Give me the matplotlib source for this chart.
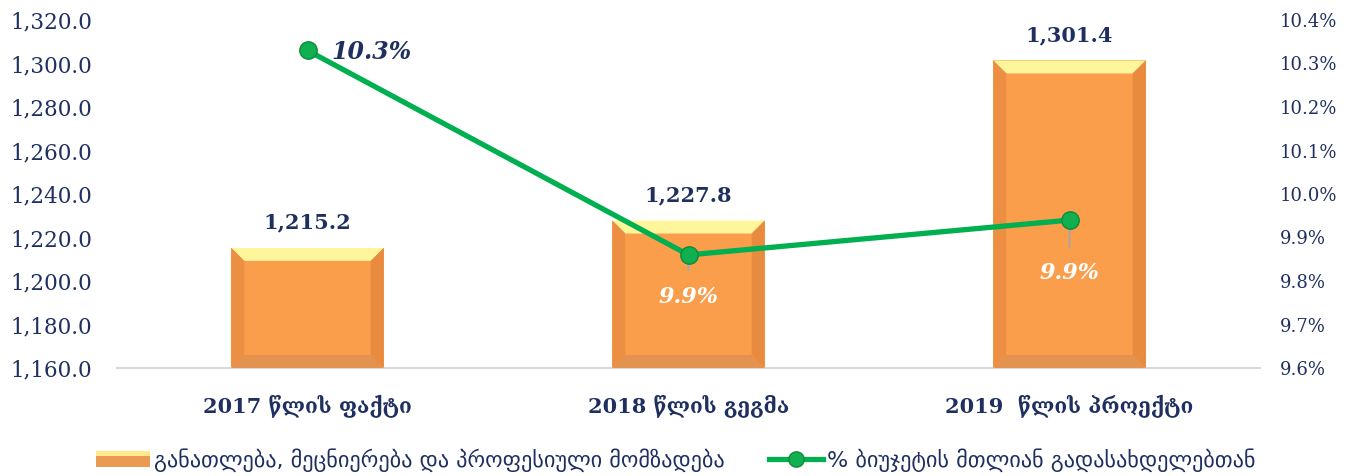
import matplotlib
matplotlib.use("Agg")
import matplotlib.pyplot as plt
from matplotlib.patches import Polygon, Rectangle
from matplotlib.lines import Line2D
from matplotlib.legend_handler import HandlerBase
from matplotlib.transforms import IdentityTransform
from matplotlib.ticker import FuncFormatter

# ---------------------------------------------------------------------------
# Data.
# ---------------------------------------------------------------------------
categories = ["2017 წლის ფაქტი", "2018 წლის გეგმა", "2019  წლის პროექტი"]
spending = [1215.2, 1227.8, 1301.4]          # million GEL
share_pct = [10.33, 9.86, 9.94]              # % of total budget expenditure
bar_label = "განათლება, მეცნიერება და პროფესიული მომზადება"
line_label = "% ბიუჯეტის მთლიან გადასახდელებთან"

NAVY = "#1F3060"
GREEN = "#00B050"
SERIF = ["DejaVu Serif", "DejaVu Sans"]

plt.rcParams["font.family"] = SERIF

fig = plt.figure(figsize=(13.52, 4.76), dpi=100)
ax = fig.add_axes([117 / 1352, 108 / 476, 1143 / 1352, 348 / 476])
ax2 = ax.twinx()

x = list(range(len(categories)))
ax.set_xlim(-0.5, len(categories) - 0.5)
ax.set_ylim(1160, 1320)
ax2.set_ylim(9.6, 10.4)

# ---------------------------------------------------------------------------
# Bevelled bars: flat face plus four edge facets drawn in pixel space.
# ---------------------------------------------------------------------------
bars = ax.bar(x, spending, width=0.4, color="#FB9E4B", zorder=2)
bevel = 13
for rect in bars:
    (x0, y0), (x1, y1) = ax.transData.transform(
        [(rect.get_x(), 1160), (rect.get_x() + rect.get_width(), rect.get_height())])
    facets = [
        ([(x0, y1), (x1, y1), (x1 - bevel, y1 - bevel), (x0 + bevel, y1 - bevel)], "#FFF59A"),
        ([(x0, y0), (x0, y1), (x0 + bevel, y1 - bevel), (x0 + bevel, y0 + bevel)], "#EC8F42"),
        ([(x1, y0), (x1, y1), (x1 - bevel, y1 - bevel), (x1 - bevel, y0 + bevel)], "#E98B3E"),
        ([(x0, y0), (x1, y0), (x1 - bevel, y0 + bevel), (x0 + bevel, y0 + bevel)], "#E3924F"),
    ]
    for pts, col in facets:
        ax.add_patch(Polygon(pts, closed=True, facecolor=col, edgecolor="none",
                             transform=IdentityTransform(), zorder=3))

for xi, val in zip(x, spending):
    ax.annotate(f"{val:,.1f}", (xi, val), xytext=(0, 11), textcoords="offset points",
                ha="center", va="bottom", fontsize=15, fontweight="bold", color=NAVY)

# ---------------------------------------------------------------------------
# Budget share line.
# ---------------------------------------------------------------------------
ax2.plot(x, share_pct, color=GREEN, lw=3.8, marker="o", ms=12.5,
         markerfacecolor="#10B050", markeredgecolor="#0A8A3A", markeredgewidth=1,
         zorder=5)

ax2.annotate(f"{share_pct[0]:.1f}%", (x[0], share_pct[0]), xytext=(17, -1),
             textcoords="offset points", ha="left", va="center", fontsize=17,
             fontweight="bold", style="italic", color=NAVY)
for xi, val, drop in zip(x[1:], share_pct[1:], [30, 38]):
    ax2.annotate(f"{val:.1f}%", (xi, val), xytext=(0, -drop),
                 textcoords="offset points", ha="center", va="center", fontsize=16,
                 fontweight="bold", style="italic", color="white",
                 arrowprops=dict(arrowstyle="-", color="#A6A6A6", lw=1.4,
                                 shrinkA=9, shrinkB=0), zorder=4)

# ---------------------------------------------------------------------------
# Axes styling.
# ---------------------------------------------------------------------------
for a in (ax, ax2):
    for s in a.spines.values():
        s.set_visible(False)
ax.spines["bottom"].set_visible(True)
ax.spines["bottom"].set_color("#D9D9D9")
ax.spines["bottom"].set_linewidth(1.5)

ax.set_yticks([1160 + 20 * i for i in range(9)])
ax.yaxis.set_major_formatter(FuncFormatter(lambda v, _: f"{v:,.1f}"))
ax.tick_params(axis="y", length=0, pad=18, labelsize=15.5, labelcolor=NAVY)
ax.set_xticks(x)
ax.set_xticklabels(categories, fontweight="bold")
ax.tick_params(axis="x", length=0, pad=19, labelsize=15, labelcolor=NAVY)

ax2.set_yticks([9.6 + 0.1 * i for i in range(9)])
ax2.yaxis.set_major_formatter(FuncFormatter(lambda v, _: f"{v:.1f}%"))
ax2.tick_params(axis="y", length=0, pad=14, labelsize=13, labelcolor=NAVY)


# ---------------------------------------------------------------------------
# Legend with a two-tone bar swatch.
# ---------------------------------------------------------------------------
class BevelSwatch(HandlerBase):
    def create_artists(self, legend, orig, xd, yd, width, height, fontsize, trans):
        bottom = Rectangle((xd, yd), width, height * 0.7, facecolor="#EA9A52",
                           edgecolor="none", transform=trans)
        top = Rectangle((xd, yd + height * 0.7), width, height * 0.3,
                        facecolor="#FFE98A", edgecolor="none", transform=trans)
        return [bottom, top]


bar_handle = Rectangle((0, 0), 1, 1)
line_handle = Line2D([], [], color=GREEN, lw=3.8, marker="o", ms=11,
                     markerfacecolor="#10B050", markeredgecolor="#0A8A3A")
fig.legend([bar_handle, line_handle], [bar_label, line_label],
           handler_map={Rectangle: BevelSwatch()},
           loc="center", bbox_to_anchor=(0.5, 0.033), ncol=2, frameon=False,
           prop={"family": ["DejaVu Sans"], "size": 16}, labelcolor=NAVY,
           handlelength=2.4, handletextpad=0.2, columnspacing=2.0)

fig.savefig("out.png", dpi=100)
